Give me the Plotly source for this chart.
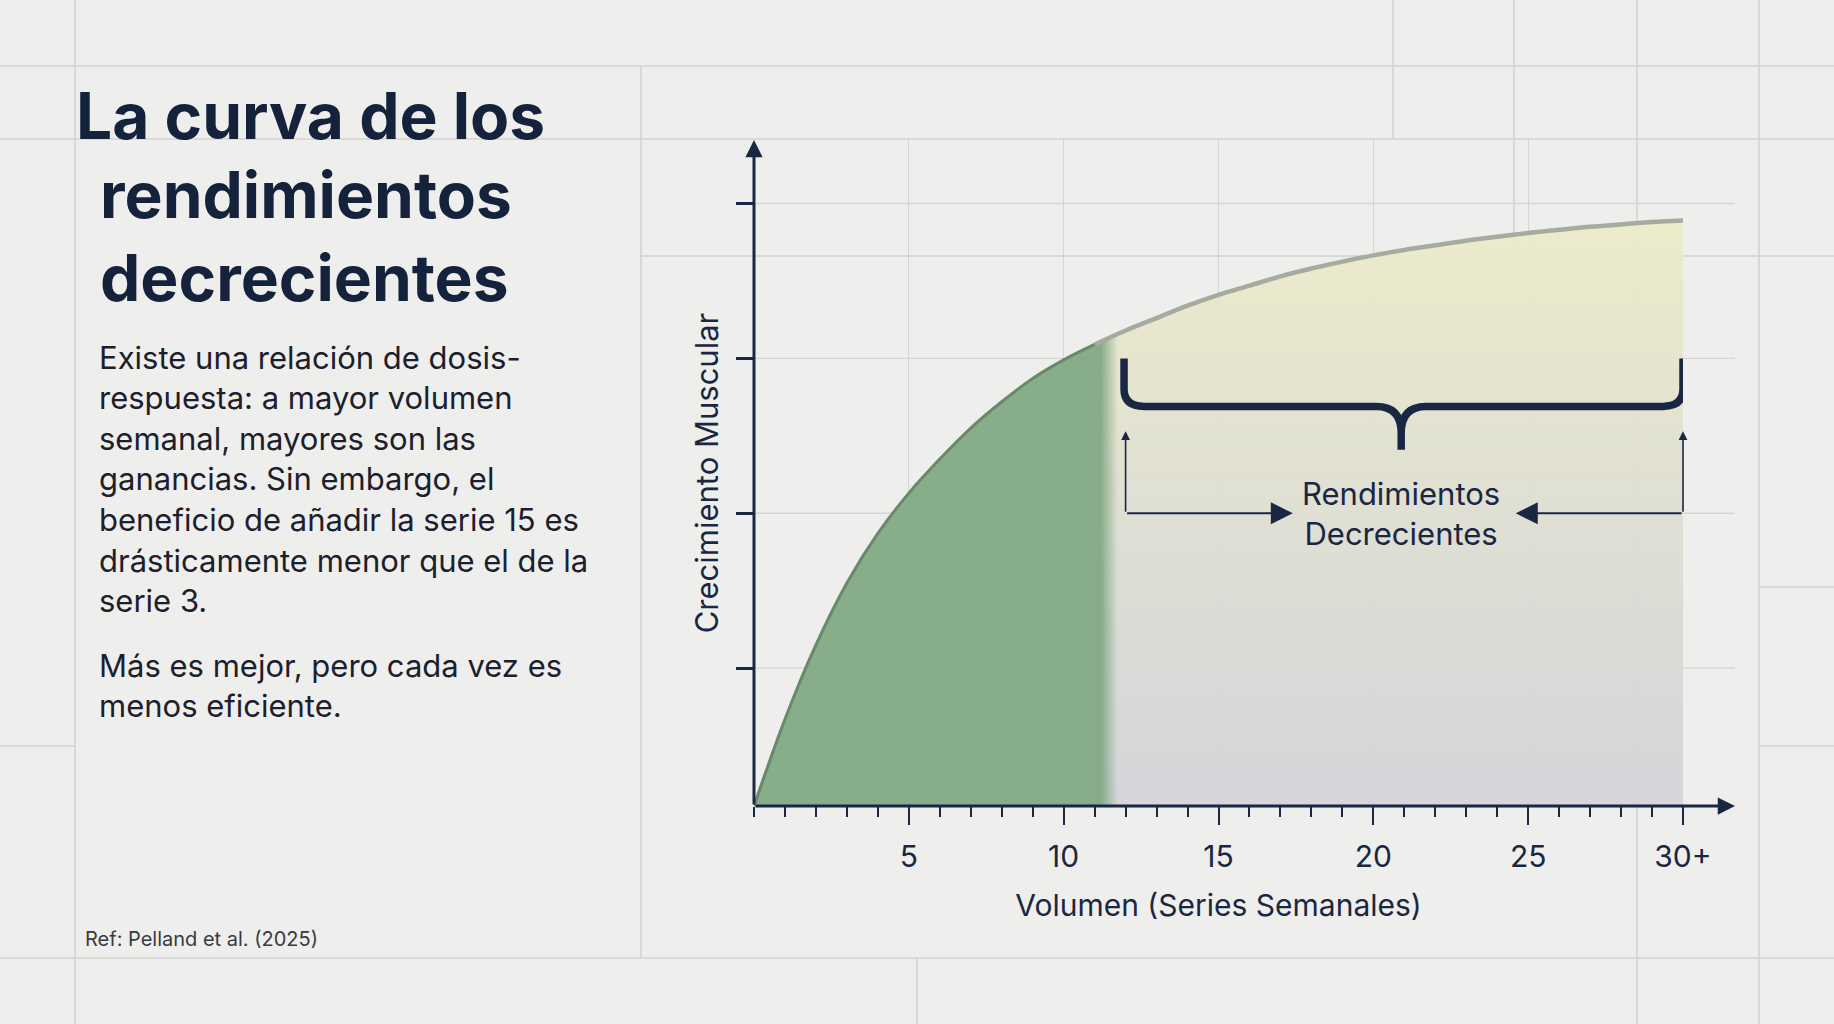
import plotly.graph_objects as go

# ---------------- data ----------------
volume = list(range(0, 31))  # weekly sets
growth = [0.00, 0.56, 1.04, 1.44, 1.76, 2.02, 2.24, 2.44, 2.61, 2.76,
          2.88, 2.98, 3.07, 3.15, 3.23, 3.30, 3.36, 3.42, 3.47, 3.515,
          3.555, 3.59, 3.62, 3.65, 3.675, 3.70, 3.72, 3.74, 3.755, 3.77, 3.78]
x_tick_vals = [5, 10, 15, 20, 25, 30]
x_tick_text = ["5", "10", "15", "20", "25", "30+"]
y_tick_vals = [0.89, 1.89, 2.89, 3.89]
efficient_end = 12        # last point of the efficient (green) zone
diminishing_start = 11    # first point of the diminishing zone
fade_from, fade_to = 11.2, 11.75
brace_left, brace_right, brace_mid = 11.95, 30.0, 20.9
brace_top, brace_bar, brace_tip = 2.89, 2.58, 2.30
arrow_y, arrow_up_to = 1.89, 2.42
arrow_left_head, arrow_right_head = 17.4, 24.6

title_line1 = "La curva de los"
title_rest = "rendimientos<br>decrecientes"
body_lines = ["Existe una relación de dosis-",
              "respuesta: a mayor volumen",
              "semanal, mayores son las",
              "ganancias. Sin embargo, el",
              "beneficio de añadir la serie 15 es",
              "drásticamente menor que el de la",
              "serie 3."]
body2_lines = ["Más es mejor, pero cada vez es",
               "menos eficiente."]
ref_text = "Ref: Pelland et al. (2025)"
x_title = "Volumen (Series Semanales)"
y_title = "Crecimiento Muscular"
zone_label = "Rendimientos<br>Decrecientes"

# ---------------- style / layout ----------------
W, H = 1834, 1024
ML, MR, MT, MB = 754, 151, 140, 218
PW, PH = W - ML - MR, H - MT - MB
X_RANGE = [0, 30]
Y_RANGE = [0, 4.3]
NAVY = "#1A2742"
TEXT = "#1C202C"
BG = "#EEEEEC"
GRID = "#D5D5D4"
PAGE_LINE = "#D2D2D1"
GREEN = "rgba(128,168,131,0.93)"
GREEN_0 = "rgba(128,168,131,0)"
FONT = "Inter"


def px_x(px):
    return (px - ML) / PW


def px_y(py):
    return (H - MB - py) / PH


fig = go.Figure()

# diminishing zone (vertical gradient fill)
ix0 = volume.index(diminishing_start)
fig.add_trace(go.Scatter(
    x=volume[ix0:], y=growth[ix0:], mode="lines", line=dict(width=0, shape="spline"),
    fill="tozeroy", hoverinfo="skip",
    fillgradient=dict(type="vertical", start=0, stop=max(growth),
                      colorscale=[[0, "rgba(211,211,217,0.92)"],
                                  [0.5, "rgba(222,222,210,0.92)"],
                                  [1, "rgba(236,235,199,0.92)"]])))

# efficient zone (green, fading edge)
ix1 = volume.index(efficient_end) + 1
fig.add_trace(go.Scatter(
    x=volume[:ix1], y=growth[:ix1], mode="lines", line=dict(width=0, shape="spline"),
    fill="tozeroy", hoverinfo="skip",
    fillgradient=dict(type="horizontal", start=0, stop=efficient_end,
                      colorscale=[[0, GREEN], [fade_from / efficient_end, GREEN],
                                  [fade_to / efficient_end, GREEN_0], [1, GREEN_0]])))

# curve lines
fig.add_trace(go.Scatter(x=volume[:ix1], y=growth[:ix1], mode="lines",
                         line=dict(color="#678A68", width=3, shape="spline"), hoverinfo="skip"))
fig.add_trace(go.Scatter(x=volume[ix0:], y=growth[ix0:], mode="lines",
                         line=dict(color="#A6AB9F", width=4.5, shape="spline"), hoverinfo="skip"))

shapes = []
# page "graph paper" lines (pixel positions)
page_h = [(66, 0, W), (139, 0, W), (256, 641, W), (587, 1759, W),
          (746, 0, 75), (746, 1759, W), (958, 0, W)]
page_v = [(75, 0, H), (641, 66, 958), (917, 958, H), (1393, 0, 139),
          (1514, 0, 256), (1637, 0, H), (1759, 0, H)]
for y, a, b in page_h:
    shapes.append(dict(type="line", xref="paper", yref="paper", x0=px_x(a), x1=px_x(b),
                       y0=px_y(y), y1=px_y(y), line=dict(color=PAGE_LINE, width=1.6), layer="below"))
for x, a, b in page_v:
    shapes.append(dict(type="line", xref="paper", yref="paper", x0=px_x(x), x1=px_x(x),
                       y0=px_y(a), y1=px_y(b), line=dict(color=PAGE_LINE, width=1.6), layer="below"))

x_arrow_tip = px_x(1735)
# horizontal chart grid lines, extending to the arrow tip
for yv in y_tick_vals:
    shapes.append(dict(type="line", xref="paper", yref="y", x0=0, x1=x_arrow_tip,
                       y0=yv, y1=yv, line=dict(color=GRID, width=1.3), layer="below"))

# curly brace
L, R, M = brace_left, brace_right, brace_mid
t, b, tip = brace_top, brace_bar, brace_tip
rx, ry = 0.65, 0.11
mrx, mry = 0.8, 0.17
brace = (f"M {L},{t} L {L},{b + ry} Q {L},{b} {L + rx},{b} "
         f"L {M - mrx},{b} Q {M},{b} {M},{b - mry} L {M},{tip} "
         f"M {M},{b - mry} Q {M},{b} {M + mrx},{b} "
         f"L {R - rx},{b} Q {R},{b} {R},{b + ry} L {R},{t}")
shapes.append(dict(type="path", xref="x", yref="y", path=brace,
                   line=dict(color=NAVY, width=7.5)))

annotations = []
# axes with arrowheads
annotations.append(dict(x=0, y=Y_RANGE[1], ax=0, ay=0, xref="x", yref="y", axref="x", ayref="y",
                        text="", showarrow=True, arrowhead=2, arrowsize=1.15, arrowwidth=3,
                        arrowcolor=NAVY))
annotations.append(dict(x=x_arrow_tip, y=0, ax=-(1735 - ML), ay=0, xref="paper", yref="paper",
                        text="", showarrow=True, arrowhead=2, arrowsize=1.15, arrowwidth=3,
                        arrowcolor=NAVY))
# bracket arrows
for xa in (brace_left + 0.05, brace_right):
    annotations.append(dict(x=xa, y=arrow_up_to, ax=xa, ay=arrow_y, xref="x", yref="y",
                            axref="x", ayref="y", text="", showarrow=True, arrowhead=2,
                            arrowsize=1.1, arrowwidth=1.6, arrowcolor=NAVY))
annotations.append(dict(x=arrow_left_head, y=arrow_y, ax=brace_left + 0.05, ay=arrow_y, xref="x",
                        yref="y", axref="x", ayref="y", text="", showarrow=True, arrowhead=2,
                        arrowsize=2.2, arrowwidth=2, arrowcolor=NAVY))
annotations.append(dict(x=arrow_right_head, y=arrow_y, ax=brace_right, ay=arrow_y, xref="x",
                        yref="y", axref="x", ayref="y", text="", showarrow=True, arrowhead=2,
                        arrowsize=2.2, arrowwidth=2, arrowcolor=NAVY))
annotations.append(dict(x=brace_mid, y=arrow_y, xref="x", yref="y", text=zone_label,
                        showarrow=False, font=dict(family=FONT, size=31, color=NAVY),
                        align="center", xanchor="center", yanchor="middle"))

# left text panel
annotations.append(dict(x=px_x(74), y=px_y(116), xref="paper", yref="paper", text=title_line1,
                        showarrow=False, xanchor="left", yanchor="middle", align="left",
                        font=dict(family=FONT, size=64, color="#15223B", weight=700)))
annotations.append(dict(x=px_x(98), y=px_y(236), xref="paper", yref="paper", text=title_rest,
                        showarrow=False, xanchor="left", yanchor="middle", align="left",
                        font=dict(family=FONT, size=64, color="#15223B", weight=700)))
for i, line in enumerate(body_lines):
    annotations.append(dict(x=px_x(97), y=px_y(357 + i * 40.6), xref="paper", yref="paper",
                            text=line, showarrow=False, xanchor="left", yanchor="middle",
                            font=dict(family=FONT, size=31, color=TEXT)))
for i, line in enumerate(body2_lines):
    annotations.append(dict(x=px_x(97), y=px_y(665 + i * 40.6), xref="paper", yref="paper",
                            text=line, showarrow=False, xanchor="left", yanchor="middle",
                            font=dict(family=FONT, size=31, color=TEXT)))
annotations.append(dict(x=px_x(83), y=px_y(939), xref="paper", yref="paper", text=ref_text,
                        showarrow=False, xanchor="left", yanchor="middle",
                        font=dict(family=FONT, size=20, color="#383B42")))

fig.update_layout(
    width=W, height=H, margin=dict(l=ML, r=MR, t=MT, b=MB, autoexpand=False),
    paper_bgcolor=BG, plot_bgcolor="rgba(0,0,0,0)", showlegend=False,
    font=dict(family=FONT, color=NAVY),
    shapes=shapes, annotations=annotations,
    xaxis=dict(range=X_RANGE, tickvals=x_tick_vals, ticktext=x_tick_text,
               ticks="outside", ticklen=18, tickwidth=2.2, tickcolor=NAVY,
               tickfont=dict(family=FONT, size=30, color=NAVY), ticklabelstandoff=6,
               showgrid=True, gridcolor=GRID, gridwidth=1.3, showline=False, zeroline=False,
               minor=dict(dtick=1, tick0=0, ticks="outside", ticklen=10, tickwidth=2,
                          tickcolor=NAVY, showgrid=False),
               title=dict(text=x_title, font=dict(family=FONT, size=30, color=NAVY), standoff=21),
               fixedrange=True),
    yaxis=dict(range=Y_RANGE, tickvals=y_tick_vals, ticks="outside", ticklen=17, tickwidth=2.5,
               tickcolor=NAVY, showticklabels=False, showgrid=False, showline=False,
               zeroline=False,
               title=dict(text=y_title, font=dict(family=FONT, size=31, color=NAVY), standoff=8),
               fixedrange=True),
)

fig.write_html("out.html")
